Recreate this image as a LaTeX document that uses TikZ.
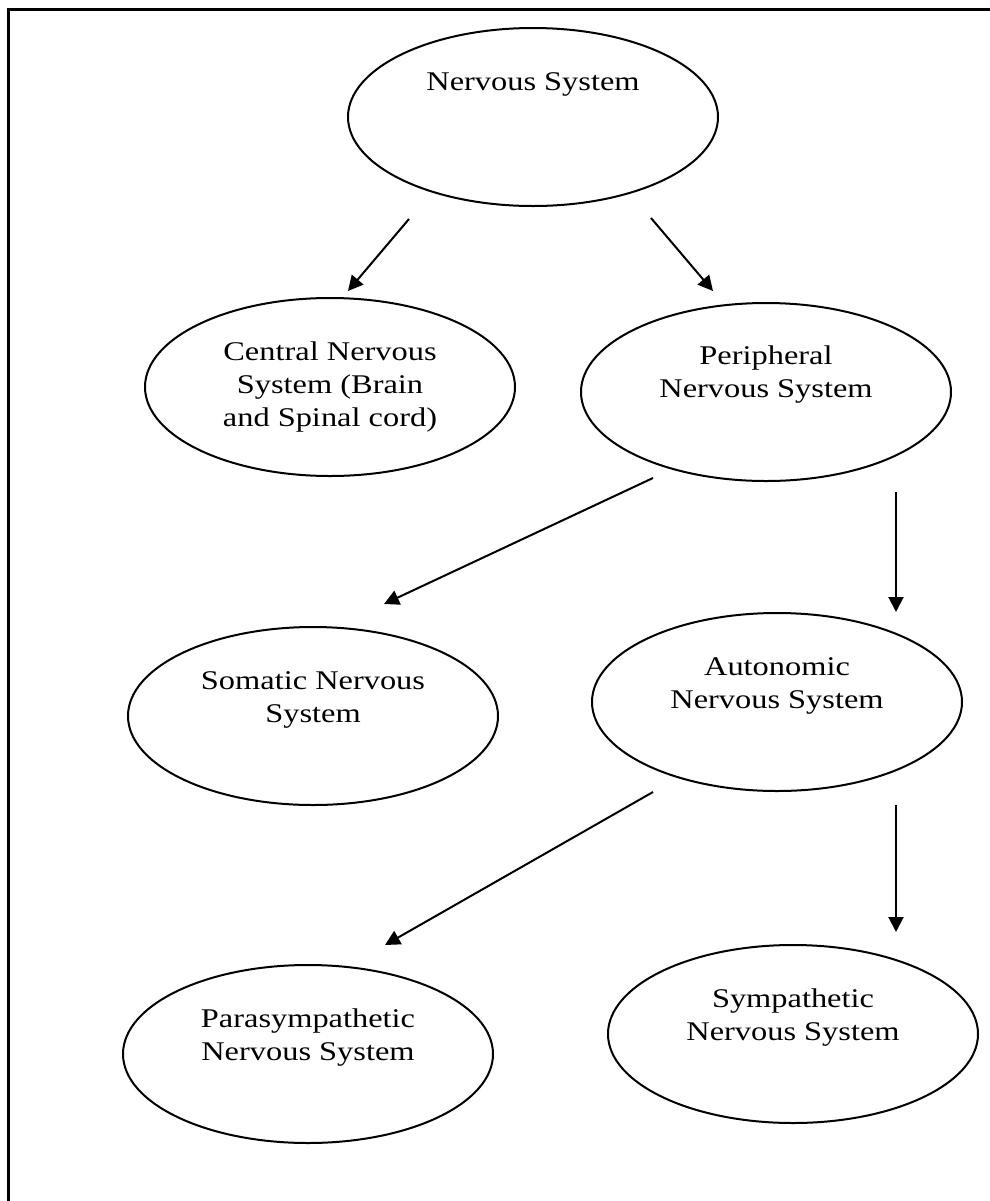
\documentclass[tikz,border=0pt]{standalone}
\usepackage{fontspec}
\setmainfont{Liberation Serif}[FakeStretch=1.2]
\usetikzlibrary{arrows.meta,shapes.geometric}
\tikzset{
  oval/.style={draw, ellipse, line width=1pt, minimum width=185pt, minimum height=89pt, inner sep=0pt},
  lbl/.style={font=\fontsize{13.5}{16.5}\selectfont, align=center, anchor=base, inner sep=0pt},
  arr/.style={line width=1pt, -{Triangle[length=7.5pt,width=7.5pt]}}
}
\begin{document}
\begin{tikzpicture}[x=0.5pt,y=-0.5pt]
  \useasboundingbox (0,0) rectangle (990,1201);
  % moldura (so topo e esquerda aparecem)
  \draw[line width=1.5pt] (8,1210) -- (8,9) -- (1000,9);
  % elipses
  \node[oval] (ns)    at (533,117)  {};
  \node[oval] (cns)   at (330,387)  {};
  \node[oval] (pns)   at (766,392)  {};
  \node[oval] (sns)   at (313,716)  {};
  \node[oval] (ans)   at (777,702)  {};
  \node[oval] (psns)  at (308,1054) {};
  \node[oval] (symns) at (793,1034) {};
  % textos (base = linha de base da ultima linha)
  \node[lbl] (nstxt)    at (533,90)   {Nervous System};
  \node[lbl] (cnstxt)   at (330,426)  {Central Nervous\\System (Brain\\and Spinal cord)};
  \node[lbl] (pnstxt)   at (766,397)  {Peripheral\\Nervous System};
  \node[lbl] (snstxt)   at (313,722)  {Somatic Nervous\\System};
  \node[lbl] (anstxt)   at (777,708)  {Autonomic\\Nervous System};
  \node[lbl] (psnstxt)  at (308,1060) {Parasympathetic\\Nervous System};
  \node[lbl] (symnstxt) at (793,1040) {Sympathetic\\Nervous System};
  % pontas soltas das setas
  \coordinate (ns-l)  at (409,219);  \coordinate (cns-t) at (348,291);
  \coordinate (ns-r)  at (651,218);  \coordinate (pns-t) at (713,291);
  \coordinate (pns-l) at (653,478);  \coordinate (sns-t) at (384,604);
  \coordinate (pns-b) at (896,492);  \coordinate (ans-t) at (896,612);
  \coordinate (ans-l) at (653,792);  \coordinate (psns-t) at (385,945);
  \coordinate (ans-b) at (896,805);  \coordinate (symns-t) at (896,932);
  % setas
  \draw[arr] (ns-l) -- (cns-t);
  \draw[arr] (ns-r) -- (pns-t);
  \draw[arr] (pns-l) -- (sns-t);
  \draw[arr] (pns-b) -- (ans-t);
  \draw[arr] (ans-l) -- (psns-t);
  \draw[arr] (ans-b) -- (symns-t);
\end{tikzpicture}
\end{document}
